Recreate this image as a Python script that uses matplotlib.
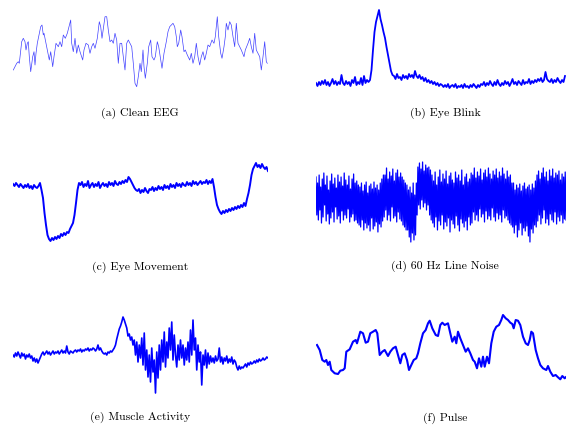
import numpy as np
import matplotlib
matplotlib.use("Agg")
import matplotlib.pyplot as plt

W, H = 566, 426

# ---------------- data ----------------
# (a) Clean EEG : sample time, amplitude
t_a = [0.3, 3.7, 5.3, 6.3, 8.7, 10.3, 12, 13, 14.3, 15.3, 16.3, 17.7, 19.7, 21, 22, 23, 24.3, 26.3, 27.7, 29,
       30.3, 31, 33, 34.3, 36.3, 37.7, 39.7, 41, 43, 45.3, 47, 48.7, 50.3, 52.3, 54.3, 57.7, 58.7, 60.3, 62, 63.7,
       65.3, 67, 69.7, 71, 73, 75.3, 77, 78.7, 80.3, 82, 84.3, 85.3, 86.3, 87.7, 89, 92, 93.7, 95.3, 97, 98.7,
       100.3, 102, 103.7, 105.3, 107, 108.7, 110.3, 112, 113.7, 115.3, 117, 118.7, 120.3, 122, 123.7, 125.3, 127,
       128.3, 130, 131, 132.3, 134.3, 135.7, 137.7, 139, 141, 142.3, 144.3, 145.7, 147.7, 149, 151, 153.3, 155,
       156.7, 158.3, 160, 161.7, 163.3, 164.3, 165.7, 167.7, 169, 171, 172.3, 174.3, 176.7, 178.3, 180, 181.7,
       183.3, 185, 186.7, 188.3, 190, 191.7, 193.3, 195, 196.7, 199, 201, 202.3, 204.3, 205.7, 207.7, 209, 211,
       212.3, 213.3, 215, 216.7, 218.3, 220, 221.7, 223.3, 225, 226.7, 228.3, 231, 232.3, 235, 236.7, 238.3, 240,
       241.7, 243.3, 245, 246.7, 248.3, 250, 251.7, 253.3, 254.3]
v_a = [20, 26.7, 28.3, 26.7, 48.3, 51.7, 48.3, 40, 46.7, 48.3, 33.3, 18.3, 33.3, 38.3, 25, 36.7, 46.7, 56.7, 63.3, 65,
       55, 56.7, 46.7, 40, 30, 38.3, 23.3, 33.3, 46.7, 43.3, 48.3, 43.3, 55, 51.7, 56.7, 70, 46.7, 38.3, 51.7, 36.7,
       45, 38.3, 30, 40, 46.7, 45, 36.7, 43.3, 46.7, 41.7, 51.7, 60, 68.3, 63.3, 51.7, 73.3, 73.3, 60, 48.3, 50,
       46.7, 56.7, 50, 26.7, 46.7, 46.7, 33.3, 20, 46.7, 50, 46.7, 43.3, 26.7, 6.7, 3.3, 13.3, 26.7,
       18.3, 40, 23.3, 11.7, 26.7, 43.3, 50, 33.3, 30, 33.3, 48.3, 43.3, 30, 21.7, 36.7, 48.3, 58.3,
       63.3, 65, 66.7, 63.3, 53.3, 43.3, 46.7, 60, 53.3, 38.3, 40, 35, 30, 36.7, 26.7, 33.3,
       46.7, 33.3, 25, 33.3, 38.3, 30, 36.7, 45, 43.3, 50, 46.7, 53.3, 73.3, 53.3, 36.7, 31.7, 43.3,
       53.3, 66.7, 60, 68.3, 65, 53.3, 43.3, 66.7, 46.7, 43.3, 40, 33.3, 40, 46.7, 51.7, 43.3, 36.7,
       56.7, 40, 36.7, 33.3, 20, 33.3, 48.3, 28.3, 26.7]

# (b) Eye Blink : uniformly sampled amplitude
v_b = [7, 4, 8, 5, 9, 6, 10, 5, 8, 4, 7, 11, 6, 9, 5, 8, 6, 15, 7, 5, 9, 6, 8, 4, 10, 7, 13, 5, 8, 6, 12, 5, 14, 7, 10, 8,
       10, 20, 40, 58, 68, 74, 80, 71, 65, 58, 52, 43, 35, 27, 19, 15,
       14, 11, 16, 12, 13, 10, 15, 12, 14, 11, 16, 13, 15, 12, 19, 14, 12, 15,
       11, 13, 9, 12, 8, 10, 7, 9, 6, 8, 5, 7, 4, 6, 5, 3,
       5, 3, 6, 2, 4, 5, 3, 6, 2, 4, 3, 5, 2, 6, 3, 4, 2, 5, 3, 6, 4, 2, 5, 3, 6,
       5, 8, 4, 7, 5, 9, 6, 4, 8, 5, 10, 6, 4, 7, 5, 9, 6, 8, 4, 7, 11, 6, 8, 5, 9, 7, 5, 10, 6, 8, 7, 11, 6, 9, 7,
       10, 8, 11, 9, 12, 8, 10, 18, 11, 9,
       8, 11, 7, 10, 8, 12, 9, 7, 10, 8, 14]

# (c) Eye Movement : uniformly sampled amplitude
v_c = [61, 59, 62, 60, 58, 61, 59, 57, 60, 58, 61, 57, 59, 56, 60, 58, 57, 59, 62,
       55, 47, 32, 20, 10, 6, 4, 7, 5, 8, 6, 9, 7, 11, 9, 12, 10, 13, 12, 16, 19, 22, 30, 42, 55, 62,
       60, 63, 58, 61, 59, 64, 57, 60, 62, 58, 61, 59, 63, 57, 60, 62, 59, 61, 58, 63, 60, 62, 59, 64, 61, 60,
       63, 61, 64, 62, 65, 63,
       68, 66, 63, 60, 57, 55,
       54, 56, 52, 55, 53, 57, 54, 52, 56, 55, 58, 54, 57, 55, 59, 56, 58, 55, 60, 57, 59, 56, 61, 58, 60, 57,
       62, 59, 61, 58, 62, 60, 59, 63, 60, 62, 59, 64, 61, 63, 60, 62, 64, 61, 63, 62, 65, 61, 64, 62, 66,
       58, 48, 40, 36, 33, 31, 34, 32, 35, 33, 36, 34, 37, 35, 38, 36, 39, 37, 40, 38, 42, 39, 46, 52, 60, 70,
       76, 79, 82, 78, 80, 77, 81, 78, 76, 78, 74]

# (d) 60 Hz Line Noise : uniformly sampled amplitude
v_d = [68, 30, 62, 25, 70, 35, 58, 22, 66, 28, 72, 40, 60, 24, 69, 31, 55, 21, 64, 27,
       71, 33, 61, 23, 67, 38, 57, 26, 70, 29, 63, 22, 68, 34, 59, 25, 72, 30, 65, 27,
       60, 36, 69, 23, 56, 28, 66, 31, 71, 24, 62, 25, 64, 22, 60, 20,
       58, 18, 62, 25, 54, 15, 60, 22, 63, 17, 52, 20, 59, 14, 61, 27, 56, 16, 63, 19,
       57, 23, 60, 13, 55, 21, 62, 18, 66, 24,
       70, 28, 70, 35, 77, 25, 66, 30, 73, 24, 69, 38, 76, 27, 64, 29, 72, 23, 75, 33,
       68, 26, 72, 24, 68, 20, 65, 18, 62, 15,
       60, 15, 55, 8, 58, 3, 52, 12, 62, 5, 50, 10, 62,
       30, 78, 40, 82, 36, 76, 45, 83, 38, 74, 42, 80, 35, 77, 40, 78, 30, 75, 25,
       70, 22, 64, 18, 73, 28, 60, 15, 68, 24, 75, 20, 63, 30, 71, 16, 66, 23, 74, 19,
       61, 27, 69, 13, 72, 25, 65, 21, 62, 17, 73, 29, 67, 20, 70, 14, 64, 26, 75, 22,
       60, 18, 68, 24, 71, 15, 63, 28, 66, 20, 72,
       22, 70, 33, 77, 25, 67, 30, 73, 24, 69, 36, 76, 28, 65, 31, 72, 23, 75, 34, 68,
       26, 77, 29, 71, 25, 66, 37, 74, 28, 70, 24, 76, 32, 67, 26, 73, 30, 69, 23, 77,
       35, 71, 27, 66, 29, 74, 25, 68, 22, 70, 20,
       62, 18, 62, 12, 55, 20, 60, 8, 57, 15, 61, 22, 54, 10, 59, 17, 62, 14, 56, 19,
       58, 9, 60, 3, 55, 16, 61, 12, 57, 20, 64, 18,
       70, 24, 74, 30, 66, 21, 72, 27, 77, 35, 68, 22, 73, 26, 64, 20, 75, 31, 69, 25,
       76, 23, 67, 33, 72, 21, 70, 28, 74, 24, 65, 30, 71, 22, 68, 26, 73, 25]

# (e) Muscle Activity : uniformly sampled amplitude
v_e = [45, 43, 47, 44, 48, 45, 42, 47, 44, 46, 41, 45, 43, 46,
       42, 44, 39, 42, 38, 41, 37, 40, 43,
       46, 48, 45, 47, 49, 46, 48, 45, 47, 49, 46, 48, 47, 49, 46, 48, 50, 47, 49, 47,
       54, 48, 46, 49, 48, 47, 49, 50, 48, 50, 49, 51, 48, 50, 49, 51, 50, 52, 49, 51,
       50, 52, 51, 49, 51, 55, 50, 52, 49, 47,
       46, 47, 45, 48,
       47, 49, 48, 50, 52, 55, 61, 66, 71, 74, 78, 83, 80, 76, 72, 64, 66, 60, 63, 55, 60,
       45, 58, 38, 55, 42, 62, 35, 67, 30, 50, 23, 45, 18, 52, 28, 40, 7, 48, 22, 55,
       30, 60, 38, 68, 33, 58, 42, 72, 50, 78, 40, 65, 45, 33, 55, 40, 60, 42, 55, 35,
       52, 40, 58, 38, 70, 45, 80, 50, 62, 30, 55, 38, 48, 15, 45, 35, 50, 32, 47, 36, 44, 38,
       42, 37, 44, 39, 41, 52, 38, 43, 36, 42, 39, 44, 37, 41, 38, 43, 36, 40, 38,
       33, 30, 34, 31, 33, 32,
       34, 36, 33, 37, 35, 38, 36, 37, 39, 37, 40, 38, 41, 39, 40, 42, 40, 41, 43, 42]

# (f) Pulse : sample time, amplitude
t_f = [1, 3.7, 6.3, 8.7, 10.3, 12, 13.7, 15.3, 18.7, 22, 24.3, 27, 28.7, 30.3, 33.7, 37, 39.7, 41, 44.3, 47,
       49.7, 52, 54.3, 57, 59.7, 61.3, 63.7, 66.3, 68.7, 72, 74.3, 77, 79.7, 82, 84.3, 86.3, 88.7, 91, 93, 95.3,
       97.7, 100.3, 102, 104.3, 107, 109.7, 112, 113.7, 116.3, 119.7, 122, 124.3, 126.3, 128.7, 132, 134.3,
       136.3, 138.7, 140.3, 142, 144.3, 147, 149.7, 152, 154.3, 157, 158.7, 161, 163, 165.3, 167, 168.7, 171,
       173, 175.3, 177.7, 180.3, 183, 185.3, 187, 189.7, 192, 194.3, 196.3, 197.7, 199.7, 202, 204.3, 207,
       209.7, 212, 213.7, 215.3, 217, 219.7, 222, 224.3, 227, 230.3, 232, 234.3, 237, 239.7, 242, 244.3,
       246.3, 248.7, 249.7]
v_f = [40, 35, 25, 23.3, 25, 20, 23.3, 15, 11.7, 11, 14.3, 15, 16.7, 33.3, 35.7, 43.3, 45, 41.7, 53.3, 51.7,
       42.3, 43.3, 51.7, 53.3, 55, 51.7, 30, 33.3, 35, 29, 33.3, 36.7, 38.3, 30, 21.7, 30, 31.7, 25, 15, 20,
       25, 26.7, 31.7, 41.7, 51.7, 55, 61.7, 64.3, 56.7, 50, 49, 60, 62.3, 60, 61.7, 51.7,
       43.3, 48.3, 41.7, 53.3, 46.7, 40, 33.3, 36.7, 31.7, 25, 23.3, 16.7, 26.7, 18.3, 28.3, 18.3, 28.3,
       21.7, 41.7, 53.3, 58.3, 60, 65, 70, 66.7, 65, 62.3, 61, 56.7, 65, 64.3, 60, 48.3,
       41.7, 40, 45, 53.3, 51.7, 35, 26.7, 20, 16.7, 15, 19, 13.3, 9, 10, 7.7, 5.7,
       9, 6.7, 7.7]

labels = ["(a) Clean EEG", "(b) Eye Blink", "(c) Eye Movement",
          "(d) 60 Hz Line Noise", "(e) Muscle Activity", "(f) Pulse"]

# ---------------- layout ----------------
fig = plt.figure(figsize=(W / 100, H / 100), dpi=100)
fig.patch.set_facecolor("white")

def make_ax(x0, x1, ytop, ybot):
    ax = fig.add_axes([x0 / W, 1 - ybot / H, (x1 - x0) / W, (ybot - ytop) / H])
    ax.set_axis_off()
    return ax

BLUE = "#0000ff"

# (a)
ax = make_ax(13, 268, 8, 92)
ax.plot(t_a, v_a, color=BLUE, lw=0.5, alpha=0.75)
ax.set_xlim(0, 255); ax.set_ylim(-2, 82)

# (b)
ax = make_ax(316, 566, 8, 92)
ax.plot(np.linspace(0, 249, len(v_b)), v_b, color=BLUE, lw=1.3)
ax.set_xlim(0, 250); ax.set_ylim(-2, 82)

# (c)
ax = make_ax(13, 268, 160, 245)
ax.plot(np.linspace(0, 255, len(v_c)), v_c, color=BLUE, lw=1.4)
ax.set_xlim(0, 255); ax.set_ylim(0, 85)

# (d)
ax = make_ax(316, 566, 160, 245)
ax.plot(np.linspace(0, 250, len(v_d)), v_d, color=BLUE, lw=0.9)
ax.set_xlim(0, 250); ax.set_ylim(0, 85)

# (e)
ax = make_ax(13, 268, 310, 400)
ax.plot(np.linspace(0, 255, len(v_e)), v_e, color=BLUE, lw=1.2)
ax.set_xlim(0, 255); ax.set_ylim(0, 90)

# (f)
ax = make_ax(316, 566, 310, 385)
ax.plot(t_f, v_f, color=BLUE, lw=1.5)
ax.set_xlim(0, 250); ax.set_ylim(0, 75)

label_pos = [(140, 113), (445, 113), (140, 267), (445, 266), (140, 417), (445, 418)]
for (px, py), lab in zip(label_pos, labels):
    fig.text(px / W, 1 - py / H, lab, ha="center", va="center",
             fontsize=8.5, family="cmr10", color="black")

fig.savefig("out.png", dpi=100, facecolor="white")
